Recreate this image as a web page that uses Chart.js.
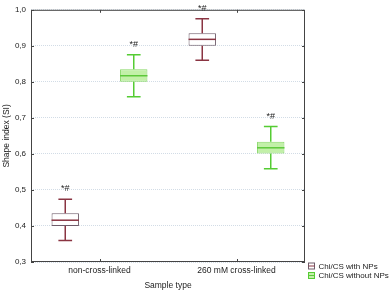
<!DOCTYPE html>
<html lang="en">
<head>
  <meta charset="UTF-8">
  <title>Shape index box plot</title>
  <script src="https://cdn.jsdelivr.net/npm/chart.js"></script>
  <style>
    html, body { margin: 0; padding: 0; background: #fff; }
  </style>
</head>
<body>
  <canvas id="boxChart" width="392" height="292"></canvas>

  <script>
    const categories = ['non-cross-linked', '260 mM cross-linked'];
    const seriesNames = ['Chi/CS with NPs', 'Chi/CS without NPs'];

    // Chi/CS with NPs
    const withMin = [0.360, 0.860];
    const withQ1 = [0.400, 0.900];
    const withMed = [0.416, 0.918];
    const withQ3 = [0.435, 0.935];
    const withMax = [0.474, 0.975];

    // Chi/CS without NPs
    const withoutMin = [0.759, 0.559];
    const withoutQ1 = [0.800, 0.601];
    const withoutMed = [0.817, 0.617];
    const withoutQ3 = [0.835, 0.634];
    const withoutMax = [0.875, 0.676];

    const marks = ['*#', '*#'];

    const yTicks = [0.3, 0.4, 0.5, 0.6, 0.7, 0.8, 0.9, 1.0];

    const FONT = '"Liberation Sans", Arial, sans-serif';

    const stats = [
      { min: withMin, med: withMed, max: withMax, whisker: '#8a3442', median: '#8a3442', border: '#6e5c6a', fill: '#ffffff' },
      { min: withoutMin, med: withoutMed, max: withoutMax, whisker: '#55cc33', median: '#5cc83a', border: '#88d868', fill: '#c2f0a8' }
    ];

    const boxPlugin = {
      id: 'boxExtras',
      afterDatasetsDraw(chart) {
        const ctx = chart.ctx;
        const y = chart.scales.y;
        const x = chart.scales.x;
        const area = chart.chartArea;

        chart.data.datasets.forEach((ds, di) => {
          const meta = chart.getDatasetMeta(di);
          const st = stats[di];
          meta.data.forEach((bar, i) => {
            const cx = bar.x;
            const half = bar.width / 2;
            const top = Math.min(bar.y, bar.base);
            const bottom = Math.max(bar.y, bar.base);
            const yMax = y.getPixelForValue(st.max[i]);
            const yMin = y.getPixelForValue(st.min[i]);
            const yMed = y.getPixelForValue(st.med[i]);
            const cap = half / 2;

            ctx.save();
            ctx.strokeStyle = st.whisker;
            ctx.lineWidth = 1.5;
            ctx.beginPath();
            ctx.moveTo(cx, top); ctx.lineTo(cx, yMax);
            ctx.moveTo(cx - cap, yMax); ctx.lineTo(cx + cap, yMax);
            ctx.moveTo(cx, bottom); ctx.lineTo(cx, yMin);
            ctx.moveTo(cx - cap, yMin); ctx.lineTo(cx + cap, yMin);
            ctx.stroke();

            ctx.strokeStyle = st.median;
            ctx.lineWidth = 1.5;
            ctx.beginPath();
            ctx.moveTo(cx - half, yMed); ctx.lineTo(cx + half, yMed);
            ctx.stroke();

            ctx.fillStyle = '#222';
            ctx.font = '9px ' + FONT;
            ctx.textAlign = 'center';
            ctx.textBaseline = 'middle';
            ctx.fillText(marks[i], cx, yMax - 10.5);
            ctx.restore();
          });
        });

        // frame and inward ticks
        ctx.save();
        ctx.strokeStyle = '#444';
        ctx.lineWidth = 1;
        ctx.strokeRect(area.left + 0.5, area.top + 0.5, area.right - area.left - 1, area.bottom - area.top - 1);
        ctx.beginPath();
        yTicks.forEach(v => {
          const py = Math.round(y.getPixelForValue(v)) + 0.5;
          ctx.moveTo(area.left, py); ctx.lineTo(area.left + 3, py);
          ctx.moveTo(area.right, py); ctx.lineTo(area.right - 3, py);
        });
        categories.forEach((c, i) => {
          const px = Math.round(x.getPixelForTick(i)) + 0.5;
          ctx.moveTo(px, area.top); ctx.lineTo(px, area.top + 3);
          ctx.moveTo(px, area.bottom); ctx.lineTo(px, area.bottom - 3);
        });
        ctx.stroke();
        ctx.restore();

        // legend
        ctx.save();
        ctx.font = '8px ' + FONT;
        ctx.textBaseline = 'middle';
        ctx.textAlign = 'left';
        seriesNames.forEach((name, i) => {
          const st = stats[i];
          const ly = 266 + i * 9.5;
          const bx = area.right + 3.5;
          ctx.fillStyle = st.fill;
          ctx.fillRect(bx, ly - 3, 6, 6);
          ctx.strokeStyle = i === 0 ? st.border : st.whisker;
          ctx.lineWidth = 1;
          ctx.strokeRect(bx, ly - 3, 6, 6);
          ctx.strokeStyle = st.median;
          ctx.beginPath();
          ctx.moveTo(bx, ly); ctx.lineTo(bx + 6, ly);
          ctx.stroke();
          ctx.fillStyle = '#222';
          ctx.fillText(name, bx + 10, ly + 0.5);
        });
        ctx.restore();
      }
    };

    const ctx = document.getElementById('boxChart').getContext('2d');
    const chart = new Chart(ctx, {
      type: 'bar',
      data: {
        labels: categories,
        datasets: [
          {
            label: seriesNames[0],
            data: withQ1.map((q, i) => [q, withQ3[i]]),
            backgroundColor: stats[0].fill,
            borderColor: stats[0].border,
            borderWidth: 1,
            borderSkipped: false,
            barPercentage: 0.4,
            categoryPercentage: 1.0
          },
          {
            label: seriesNames[1],
            data: withoutQ1.map((q, i) => [q, withoutQ3[i]]),
            backgroundColor: stats[1].fill,
            borderColor: stats[1].border,
            borderWidth: 1,
            borderSkipped: false,
            barPercentage: 0.4,
            categoryPercentage: 1.0
          }
        ]
      },
      options: {
        responsive: false,
        animation: false,
        layout: { padding: { left: 0, right: 87, top: 5, bottom: 0 } },
        plugins: {
          legend: { display: false },
          tooltip: { enabled: false }
        },
        scales: {
          x: {
            grid: { display: false, drawTicks: false },
            border: { display: false },
            ticks: { color: '#222', font: { family: FONT, size: 8.5 }, padding: 4 },
            title: { display: true, text: 'Sample type', color: '#222', font: { family: FONT, size: 8.5 }, padding: { top: 0, bottom: 1 } },
            afterFit: (scale) => { scale.width; scale.height = 30; }
          },
          y: {
            min: 0.3,
            max: 1.0,
            afterBuildTicks: (scale) => { scale.ticks = yTicks.map(v => ({ value: v })); },
            grid: { color: '#d2dce6', drawTicks: false, lineWidth: 1 },
            border: { display: false, dash: [1, 1] },
            ticks: {
              color: '#222',
              font: { family: FONT, size: 8 },
              padding: 5,
              callback: (v) => Number(v).toFixed(1).replace('.', ',')
            },
            title: { display: true, text: 'Shape index (SI)', color: '#222', font: { family: FONT, size: 8.5 }, padding: { top: 2, bottom: 0 } },
            afterFit: (scale) => { scale.width = 31; }
          }
        }
      },
      plugins: [boxPlugin]
    });
  </script>
</body>
</html>
